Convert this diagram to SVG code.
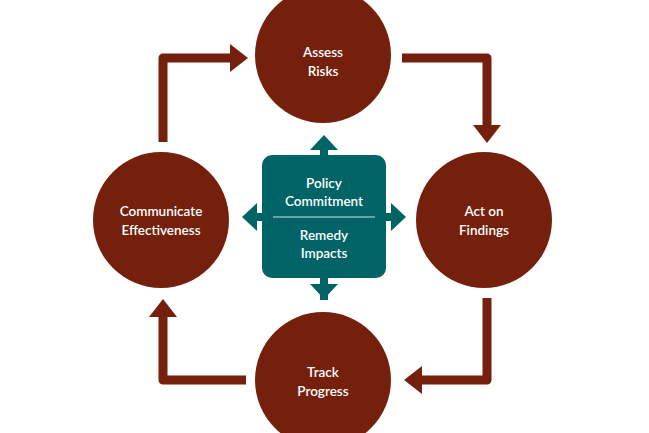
<svg xmlns="http://www.w3.org/2000/svg" width="649" height="433" viewBox="0 0 649 433">
<style>
.c{fill:#74200c}
.f{fill:none;stroke:#74200c;stroke-width:9;stroke-linejoin:round}
.h{fill:#74200c}
.t{font-family:"Lato","Liberation Sans",sans-serif;font-size:13.5px;fill:#fff;text-anchor:middle;font-weight:600}
.tl{fill:#006466}
</style>
<rect width="649" height="433" fill="#fff"/>
<g id="connectors">
<path class="f" d="M163,142 V58 H232"/><polygon class="h" points="230,44 248,58 230,72"/>
<path class="f" d="M402,58 H487 V127"/><polygon class="h" points="473,125 487,143 501,125"/>
<path class="f" d="M487,298 V380 H420"/><polygon class="h" points="422,366 404,380 422,394"/>
<path class="f" d="M246,380 H163 V315"/><polygon class="h" points="149,317 163,299 177,317"/>
</g>
<g id="assess"><circle class="c" cx="323" cy="55" r="68"/><text class="t" x="323" y="57">Assess</text><text class="t" x="323" y="76">Risks</text></g>
<g id="act"><circle class="c" cx="484" cy="220" r="68"/><text class="t" x="484" y="216">Act on</text><text class="t" x="484" y="235">Findings</text></g>
<g id="track"><circle class="c" cx="323" cy="380" r="68"/><text class="t" x="323" y="377">Track</text><text class="t" x="323" y="396">Progress</text></g>
<g id="communicate"><circle class="c" cx="161" cy="220" r="68"/><text class="t" x="161" y="216">Communicate</text><text class="t" x="161" y="235">Effectiveness</text></g>
<g id="center">
<rect class="tl" x="320" y="140" width="8" height="160"/><rect class="tl" x="250" y="213" width="148" height="8"/>
<polygon class="tl" points="310,150 324,135 338,150"/><polygon class="tl" points="310,284 324,299 338,284"/>
<polygon class="tl" points="257,203 242,217 257,231"/><polygon class="tl" points="391,203 406,217 391,231"/>
<rect class="tl" x="262" y="155" width="124" height="123" rx="10"/>
<line x1="273" y1="217" x2="375" y2="217" stroke="#cfe3e3" stroke-width="1.2"/>
<text class="t" x="324" y="188">Policy</text><text class="t" x="324" y="206">Commitment</text>
<text class="t" x="324" y="240">Remedy</text><text class="t" x="324" y="258">Impacts</text>
</g>
</svg>
